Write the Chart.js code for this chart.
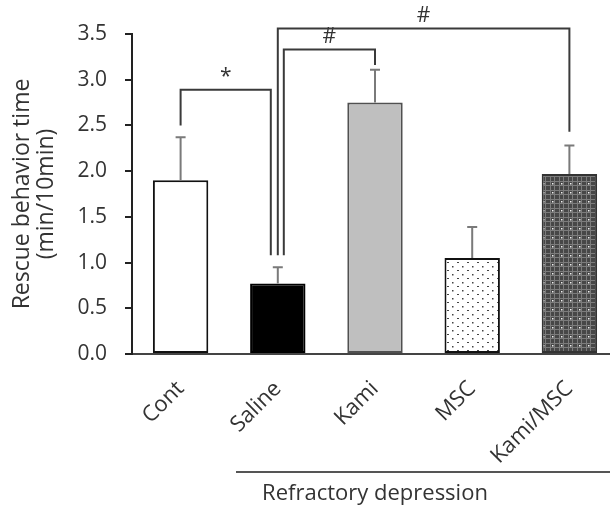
<!DOCTYPE html>
<html>
<head>
<meta charset="utf-8">
<script src="https://cdn.jsdelivr.net/npm/chart.js@4/dist/chart.umd.min.js"></script>
<style>
  html, body { margin: 0; padding: 0; background: #fff; overflow: hidden; }
  #wrap { width: 620px; height: 506px; }
</style>
</head>
<body>
<div id="wrap"><canvas id="rescueChart" width="620" height="506"></canvas></div>
<script>
// Rescue behaviour time per group (min/10min)
const groups = ['Cont', 'Saline', 'Kami', 'MSC', 'Kami/MSC'];
const means = [1.90, 0.77, 2.75, 1.05, 1.97];
const errors = [0.47, 0.18, 0.36, 0.34, 0.31];
const yTicks = [0, 0.5, 1.0, 1.5, 2.0, 2.5, 3.0, 3.5];

// significance brackets: group pairs, mark, bar level and leg ends (y units)
const sigPairs = [['Cont', 'Saline'], ['Saline', 'Kami'], ['Saline', 'Kami/MSC']];
const sigMarks = ['*', '#', '#'];
const sigLevels = [2.89, 3.33, 3.56];
const sigLegEnds = [[2.5, 1.08], [1.08, 3.16], [1.08, 2.43]];
const groupNote = 'Refractory depression';

// fill patterns for the MSC bars
function dotPattern() {
    const c = document.createElement('canvas');
    c.width = 10; c.height = 16;
    const g = c.getContext('2d');
    g.fillStyle = '#fff';
    g.fillRect(0, 0, 10, 16);
    g.fillStyle = '#444';
    g.fillRect(2, 2, 1.5, 1.5);
    g.fillRect(7, 6, 2, 1);
    g.fillRect(2, 10, 1.5, 1.5);
    g.fillRect(7, 14, 2, 1);
    return g.createPattern(c, 'repeat');
}

function densePattern() {
    const c = document.createElement('canvas');
    c.width = 9; c.height = 9;
    const g = c.getContext('2d');
    g.fillStyle = '#474747';
    g.fillRect(0, 0, 9, 9);
    g.fillStyle = '#7c7c7c';
    g.fillRect(0, 1, 9, 1);
    g.fillRect(0, 5, 9, 1);
    g.fillRect(1, 0, 1, 9);
    g.fillRect(5, 0, 1, 9);
    g.fillStyle = '#f0f0f0';
    g.fillRect(3, 3, 1.5, 1.5);
    return g.createPattern(c, 'repeat');
}

const ctx = document.getElementById('rescueChart');
const fills = ['#ffffff', '#000000', '#bfbfbf', dotPattern(), densePattern()];
const edges = ['#111', '#000', '#505050', '#111', '#333'];

// error bars (upper only) drawn through the y scale
const errorBarPlugin = {
    id: 'errorBars',
    afterDatasetsDraw(chart) {
        const g = chart.ctx;
        const y = chart.scales.y;
        const meta = chart.getDatasetMeta(0);
        g.save();
        g.strokeStyle = '#7a7a7a';
        g.lineWidth = 2;
        meta.data.forEach((bar, i) => {
            const top = y.getPixelForValue(means[i] + errors[i]);
            const base = y.getPixelForValue(means[i]);
            g.beginPath();
            g.moveTo(bar.x, base);
            g.lineTo(bar.x, top);
            g.moveTo(bar.x - 5, top);
            g.lineTo(bar.x + 5, top);
            g.stroke();
        });
        g.restore();
    }
};

// significance brackets plus the group note under the axis
const annotationPlugin = {
    id: 'annotations',
    afterDraw(chart) {
        const g = chart.ctx;
        const x = chart.scales.x;
        const y = chart.scales.y;
        const step = x.getPixelForValue(1) - x.getPixelForValue(0);
        const legShift = [[0, -7], [6, 0], [0, 0]];
        g.save();
        g.strokeStyle = '#3a3a3a';
        g.lineWidth = 2;
        g.fillStyle = '#333';
        g.font = '21px "Open Sans"';
        g.textAlign = 'center';
        g.textBaseline = 'bottom';
        sigPairs.forEach((pair, i) => {
            const x1 = x.getPixelForValue(groups.indexOf(pair[0])) + legShift[i][0];
            const x2 = x.getPixelForValue(groups.indexOf(pair[1])) + legShift[i][1];
            const yl = y.getPixelForValue(sigLevels[i]);
            g.beginPath();
            g.moveTo(x1, y.getPixelForValue(sigLegEnds[i][0]));
            g.lineTo(x1, yl);
            g.lineTo(x2, yl);
            g.lineTo(x2, y.getPixelForValue(sigLegEnds[i][1]));
            g.stroke();
            g.fillText(sigMarks[i], (x1 + x2) / 2, yl - 2);
        });

        // "Refractory depression" group line
        const lineY = 472;
        g.strokeStyle = '#555';
        g.beginPath();
        g.moveTo(x.getPixelForValue(1) - 0.43 * step, lineY);
        g.lineTo(chart.width, lineY);
        g.stroke();
        g.font = '22px "Open Sans"';
        g.textBaseline = 'middle';
        g.fillText(groupNote, x.getPixelForValue(2), lineY + 22);
        g.restore();
    }
};

new Chart(ctx, {
    type: 'bar',
    data: {
        labels: groups,
        datasets: [{
            data: means,
            backgroundColor: fills,
            borderColor: edges,
            borderWidth: 2,
            borderSkipped: false,
            barPercentage: 0.57,
            categoryPercentage: 1.0
        }]
    },
    options: {
        responsive: false,
        animation: false,
        layout: { padding: { left: 10, top: 34, right: 2, bottom: 0 } },
        plugins: {
            legend: { display: false },
            tooltip: { enabled: false }
        },
        scales: {
            x: {
                grid: { display: false, drawTicks: false },
                border: { display: true, color: '#444', width: 2 },
                ticks: {
                    color: '#333',
                    font: { family: 'Open Sans', size: 22 },
                    minRotation: 45,
                    maxRotation: 45,
                    padding: 22
                },
                afterFit(scale) { scale.height = 506 - 354; }
            },
            y: {
                min: 0,
                max: 3.5,
                afterBuildTicks(scale) { scale.ticks = yTicks.map(v => ({ value: v })); },
                grid: { display: true, drawOnChartArea: false, drawTicks: true, tickLength: 7, color: '#222', lineWidth: 2 },
                border: { display: true, color: '#222', width: 2 },
                ticks: {
                    color: '#333',
                    font: { family: 'Open Sans', size: 21 },
                    padding: 18,
                    callback: v => Number(v).toFixed(1)
                },
                title: {
                    display: true,
                    text: ['Rescue behavior time', '(min/10min)'],
                    color: '#333',
                    font: { family: 'Open Sans', size: 23, lineHeight: 1.05 },
                    padding: 0
                },
                afterFit(scale) { scale.width = 122; }
            }
        }
    },
    plugins: [errorBarPlugin, annotationPlugin]
});
</script>
</body>
</html>
